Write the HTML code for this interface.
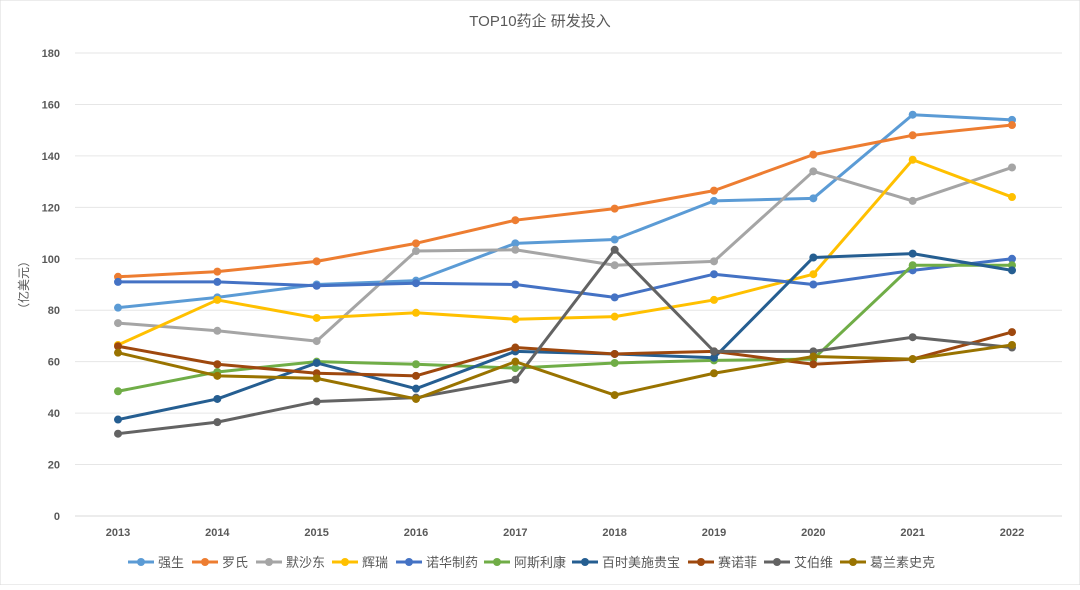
<!DOCTYPE html>
<html><head><meta charset="utf-8"><style>
body{margin:0;background:#fff;font-family:"Liberation Sans","Noto Sans CJK SC",sans-serif;}
svg text{font-family:"Liberation Sans","Noto Sans CJK SC",sans-serif;}
</style></head><body>
<svg id="chart" width="1080" height="585" viewBox="0 0 1080 585">
<rect width="1080" height="585" fill="#fff" stroke="#d9d9d9"/>
<text x="540" y="26" text-anchor="middle" font-size="15" fill="#595959">TOP10药企 研发投入</text>
<text transform="translate(28,285) rotate(-90)" text-anchor="middle" font-size="12" fill="#595959">（亿美元）</text>
<g id="grid"></g><g id="series"></g><g id="legend"></g>
</svg>
<script>
const years=["2013","2014","2015","2016","2017","2018","2019","2020","2021","2022"];
const yTicks=[0,20,40,60,80,100,120,140,160,180];
const names=["强生","罗氏","默沙东","辉瑞","诺华制药","阿斯利康","百时美施贵宝","赛诺菲","艾伯维","葛兰素史克"];
const colors=["#5b9bd5","#ed7d31","#a5a5a5","#ffc000","#4472c4","#70ad47","#255e91","#9e480e","#636363","#997300"];
const s0=[81,85,90,91.5,106,107.5,122.5,123.5,156,154];
const s1=[93,95,99,106,115,119.5,126.5,140.5,148,152];
const s2=[75,72,68,103,103.5,97.5,99,134,122.5,135.5];
const s3=[66.5,84,77,79,76.5,77.5,84,94,138.5,124];
const s4=[91,91,89.5,90.5,90,85,94,90,95.5,100];
const s5=[48.5,56,60,59,57.5,59.5,60.5,61,97.5,97.5];
const s6=[37.5,45.5,59.5,49.5,64,63,61.5,100.5,102,95.5];
const s7=[66,59,55.5,54.5,65.5,63,64,59,61,71.5];
const s8=[32,36.5,44.5,46,53,103.5,64,64,69.5,65.5];
const s9=[63.5,54.5,53.5,45.5,60,47,55.5,62,61,66.5];
const series=[s0,s1,s2,s3,s4,s5,s6,s7,s8,s9];
const NS="http://www.w3.org/2000/svg";
const x=i=>118+i*(1012-118)/(years.length-1);
const y=v=>516-v*(516-53)/180;
function mk(t,a,p){const e=document.createElementNS(NS,t);for(const k in a)e.setAttribute(k,a[k]);p.appendChild(e);return e;}
const g=document.getElementById('grid');
yTicks.forEach(t=>{
 const l=mk('line',{x1:75,x2:1062,y1:y(t),y2:y(t),stroke:t===0?'#d9d9d9':'#e6e6e6','stroke-width':1},g);
 
 
 const tx=mk('text',{x:60,y:y(t)+4,'text-anchor':'end','font-size':11,fill:'#595959','font-weight':'bold'},g);tx.textContent=t;
 
 
});
years.forEach((yr,i)=>{
 const tx=mk('text',{x:x(i),y:536,'text-anchor':'middle','font-size':11,fill:'#595959','font-weight':'bold'},g);tx.textContent=yr;
 
 
});
const sg=document.getElementById('series');
series.forEach((d,k)=>{
 const gr=mk('g',{},sg);
 
 
 const p=mk('polyline',{points:d.map((v,i)=>x(i)+','+y(v)).join(' '),fill:'none',stroke:colors[k],'stroke-width':3,'stroke-linejoin':'round'},gr);
 
 
 d.forEach((v,i)=>{const c=mk('circle',{cx:x(i),cy:y(v),r:4,fill:colors[k]},gr);
  
  });
});
const lg=document.getElementById('legend');
const lx=[128,192,256,332,396,484,572,688,764,840];
names.forEach((n,k)=>{
 const gr=mk('g',{},lg);
 
 
 const X=lx[k];
 mk('line',{x1:X,x2:X+26,y1:562,y2:562,stroke:colors[k],'stroke-width':3},gr);
 mk('circle',{cx:X+13,cy:562,r:4,fill:colors[k]},gr);
 const t=mk('text',{x:X+30,y:567,'font-size':13,fill:'#595959'},gr);t.textContent=n;
});
</script>
</body></html>
